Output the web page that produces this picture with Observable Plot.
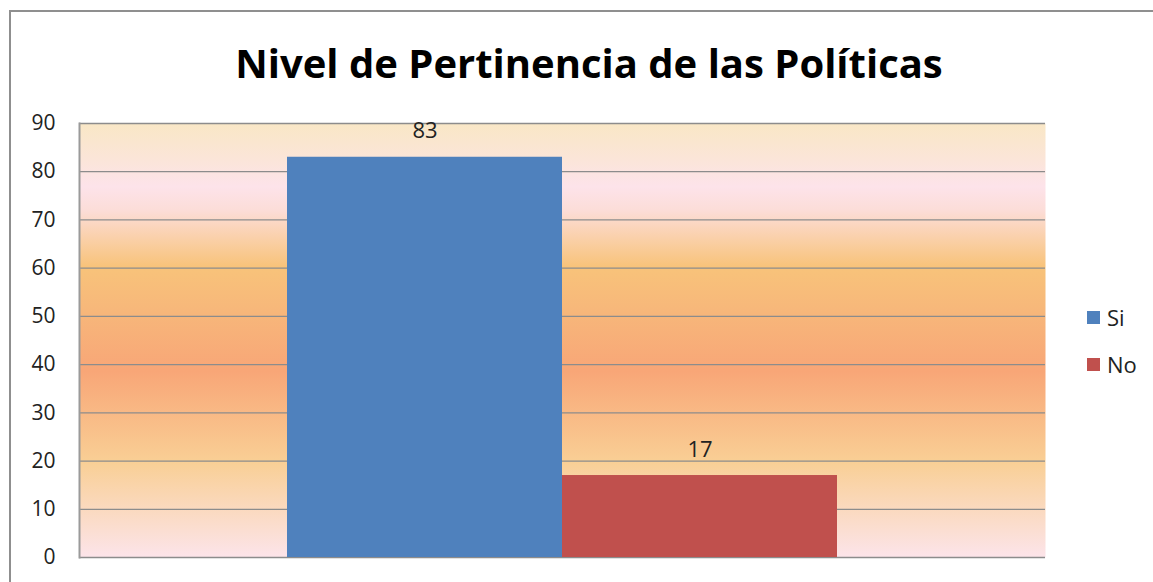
<!DOCTYPE html>
<html>
<head>
<meta charset="utf-8">
<script src="https://cdn.jsdelivr.net/npm/d3@7"></script>
<script src="https://cdn.jsdelivr.net/npm/@observablehq/plot@0.6"></script>
<style>
  html, body { margin: 0; padding: 0; background: #fff; }
  #wrap { position: relative; width: 1153px; height: 582px; overflow: hidden; font-family: "Open Sans", sans-serif; }
  #border { position: absolute; left: 9px; top: 10px; width: 1200px; height: 700px; border-left: 2px solid #8f8f8f; border-top: 2px solid #8f8f8f; }
  #title { position: absolute; left: 0; top: 33px; width: 1178px; text-align: center; font-family: "Open Sans", sans-serif; font-weight: 700; font-size: 40px; color: #000; line-height: 60px; }
  #chart { position: absolute; left: 0; top: 0; }
  #legend { position: absolute; left: 1087px; top: 302px; font-size: 22px; color: #222; }
  .li { display: flex; align-items: center; height: 30px; margin-bottom: 17px; }
  .sw { width: 13px; height: 13px; margin-right: 7px; }
</style>
</head>
<body>
<div id="wrap">
  <div id="border"></div>
  <div id="chart"></div>
  <div id="title">Nivel de Pertinencia de las Políticas</div>
  <div id="legend"></div>
</div>
<script>
const title = "Nivel de Pertinencia de las Políticas";
const series = ["Si", "No"];
const values = [83, 17];
const colors = ["#4F81BD", "#C0504D"];
const yTicks = [0, 10, 20, 30, 40, 50, 60, 70, 80, 90];

const data = series.map((s, i) => ({serie: s, value: values[i]}));

const plot = Plot.plot({
  width: 1153,
  height: 582,
  marginTop: 123,
  marginBottom: 25,
  marginLeft: 79,
  marginRight: 108,
  style: {fontFamily: "Open Sans, sans-serif", fontSize: "21px", color: "#222", background: "transparent"},
  x: {type: "band", domain: series, range: [286, 837], padding: 0, axis: null},
  y: {domain: [0, 90], axis: null},
  color: {domain: series, range: colors},
  marks: [
    Plot.frame({fill: "url(#bgGrad)", stroke: "none"}),
    Plot.ruleY(yTicks, {stroke: "#8c8c8c", strokeWidth: 1.3, strokeOpacity: 1}),
    Plot.frame({anchor: "left", stroke: "#9a9a9a", strokeWidth: 2}),
    Plot.barY(data, {x: "serie", y: "value", fill: "serie", inset: 0}),
    Plot.text(data, {x: "serie", y: "value", text: d => String(d.value), dy: -26, fill: "#222", fontSize: 22}),
    Plot.axisY({ticks: yTicks, tickSize: 0, tickPadding: 24, fontSize: 21, fill: "#222", label: null})
  ]
});

// gradient background for plot area
const ns = "http://www.w3.org/2000/svg";
const defs = document.createElementNS(ns, "defs");
const grad = document.createElementNS(ns, "linearGradient");
grad.setAttribute("id", "bgGrad");
grad.setAttribute("x1", "0"); grad.setAttribute("y1", "0");
grad.setAttribute("x2", "0"); grad.setAttribute("y2", "1");
[[0, "#F9E7C6"], [0.085, "#FBE5D9"], [0.145, "#FDE3EA"], [0.2, "#FCDDD8"], [0.33, "#F8C37A"], [0.44, "#F7B67A"], [0.57, "#F8A677"], [0.78, "#F9CF95"], [1, "#FCE4EA"]].forEach(([o, c]) => {
  const st = document.createElementNS(ns, "stop");
  st.setAttribute("offset", o);
  st.setAttribute("stop-color", c);
  grad.appendChild(st);
});
defs.appendChild(grad);
plot.insertBefore(defs, plot.firstChild);
document.getElementById("chart").appendChild(plot);

const legend = document.getElementById("legend");
series.forEach((s, i) => {
  const li = document.createElement("div");
  li.className = "li";
  li.innerHTML = `<div class="sw" style="background:${colors[i]}"></div><span>${s}</span>`;
  legend.appendChild(li);
});
</script>
</body>
</html>
